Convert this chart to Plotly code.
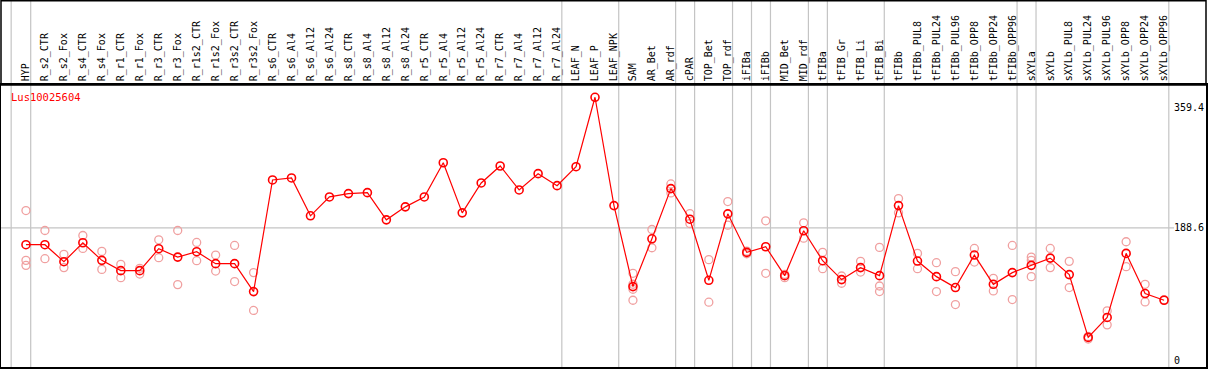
import plotly.graph_objects as go

gene = "Lus10025604"

categories = [
    "HYP", "R_s2_CTR", "R_s2_Fox", "R_s4_CTR", "R_s4_Fox", "R_r1_CTR", "R_r1_Fox",
    "R_r3_CTR", "R_r3_Fox", "R_r1s2_CTR", "R_r1s2_Fox", "R_r3s2_CTR", "R_r3s2_Fox",
    "R_s6_CTR", "R_s6_Al4", "R_s6_Al12", "R_s6_Al24", "R_s8_CTR", "R_s8_Al4",
    "R_s8_Al12", "R_s8_Al24", "R_r5_CTR", "R_r5_Al4", "R_r5_Al12", "R_r5_Al24",
    "R_r7_CTR", "R_r7_Al4", "R_r7_Al12", "R_r7_Al24", "LEAF_N", "LEAF_P", "LEAF_NPK",
    "SAM", "AR_Bet", "AR_rdf", "cPAR", "TOP_Bet", "TOP_rdf", "iFIBa", "iFIBb",
    "MID_Bet", "MID_rdf", "tFIBa", "tFIB_Gr", "tFIB_Li", "tFIB_Bi", "tFIBb",
    "tFIBb_PUL8", "tFIBb_PUL24", "tFIBb_PUL96", "tFIBb_OPP8", "tFIBb_OPP24",
    "tFIBb_OPP96", "sXYLa", "sXYLb", "sXYLb_PUL8", "sXYLb_PUL24", "sXYLb_PUL96",
    "sXYLb_OPP8", "sXYLb_OPP24", "sXYLb_OPP96",
]

means = [
    164.6, 164.6, 140.5, 167.4, 142.4, 127.8, 127.8, 158.9, 147.0, 154.7, 137.7,
    137.7, 98.1, 256.5, 259.3, 205.6, 232.4, 237.1, 238.5, 199.9, 218.3, 232.4,
    280.9, 209.8, 252.2, 276.3, 242.3, 265.4, 248.4, 275.3, 373.8, 220.1, 105.2,
    173.0, 244.2, 200.8, 114.1, 208.4, 153.7, 161.7, 120.7, 184.4, 141.9, 115.1,
    132.1, 120.7, 220.1, 141.4, 119.3, 103.8, 149.9, 108.4, 125.0, 135.3, 145.6,
    122.2, 33.1, 61.4, 152.3, 95.3, 85.8,
]

replicates = {
    "HYP": [213.1, 142.4, 135.3],
    "R_s2_CTR": [184.8, 144.8],
    "R_s2_Fox": [150.9, 132.1],
    "R_s4_CTR": [177.7, 159.3],
    "R_s4_Fox": [155.1, 129.6],
    "R_r1_CTR": [136.7, 117.9],
    "R_r1_Fox": [131.1, 123.0],
    "R_r3_CTR": [171.6, 146.2],
    "R_r3_Fox": [184.8, 108.0],
    "R_r1s2_CTR": [167.8, 141.9],
    "R_r1s2_Fox": [149.9, 127.2],
    "R_r3s2_CTR": [163.6, 112.3],
    "R_r3s2_Fox": [125.0, 71.3],
    "SAM": [124.0, 108.5, 101.4, 85.8],
    "AR_Bet": [186.2, 160.3],
    "AR_rdf": [250.8, 238.1],
    "cPAR": [208.8, 194.7],
    "TOP_Bet": [143.4, 83.0],
    "TOP_rdf": [225.8, 192.3],
    "iFIBa": [151.8, 155.5],
    "iFIBb": [198.5, 124.0],
    "MID_Bet": [117.9, 122.6],
    "MID_rdf": [195.7, 173.9],
    "tFIBa": [153.7, 130.6],
    "tFIB_Gr": [120.2, 109.9],
    "tFIB_Li": [141.0, 125.8],
    "tFIB_Bi": [160.8, 106.0, 98.1],
    "tFIBb": [230.0, 209.8],
    "tFIBb_PUL8": [152.3, 130.6],
    "tFIBb_PUL24": [139.1, 98.1],
    "tFIBb_PUL96": [126.4, 79.7],
    "tFIBb_OPP8": [159.3, 140.0],
    "tFIBb_OPP24": [116.9, 99.0],
    "tFIBb_OPP96": [163.6, 86.8],
    "sXYLa": [147.0, 142.4, 119.3],
    "sXYLb": [159.3, 132.1],
    "sXYLb_PUL8": [141.0, 103.8],
    "sXYLb_PUL24": [30.7, 34.5],
    "sXYLb_PUL96": [70.7, 50.9],
    "sXYLb_OPP8": [168.8, 133.5],
    "sXYLb_OPP24": [108.4, 83.4],
    "sXYLb_OPP96": [86.5],
}

# last category of each sample group (a separator follows it)
group_ends = ["HYP", "R_r7_Al24", "LEAF_NPK", "AR_rdf", "cPAR", "TOP_rdf", "iFIBa",
              "iFIBb", "MID_rdf", "tFIBa", "tFIB_Bi", "tFIBb_OPP96", "sXYLa", "sXYLb_OPP96"]

ytick_vals = [0, 188.6, 359.4]
ytick_text = ["0", "188.6", "359.4"]
ref_line = 188.6

xs = list(range(len(categories)))
rep_x, rep_y = [], []
for c, vals in replicates.items():
    i = categories.index(c)
    for v in vals:
        rep_x.append(i)
        rep_y.append(v)

MONO = "DejaVu Sans Mono"
W, H = 1209, 370
ML, MR, MT, MB = 1, 1, 85, 2
plot_h = H - MT - MB
plot_w = W - ML - MR

fig = go.Figure()
fig.add_trace(go.Scatter(
    x=rep_x, y=rep_y, mode="markers",
    marker=dict(symbol="circle-open", size=8, color="#f0a0a0", line=dict(width=1.3, color="#f0a0a0")),
    hoverinfo="skip", showlegend=False,
))
fig.add_trace(go.Scatter(
    x=xs, y=means, mode="lines+markers",
    line=dict(color="#ff0000", width=1.2),
    marker=dict(symbol="circle-open", size=8, color="#ff0000", line=dict(width=1.6, color="#ff0000")),
    showlegend=False,
))

shapes = []
sep_positions = [-0.78] + [categories.index(g) + 0.25 for g in group_ends]
top_paper = 1 + MT / plot_h
for p in sep_positions:
    shapes.append(dict(type="line", xref="x", yref="paper", x0=p, x1=p, y0=0, y1=top_paper,
                       line=dict(color="#c4c4c4", width=1.2), layer="below"))
shapes.append(dict(type="line", xref="paper", yref="y", x0=0, x1=(1176 - ML) / plot_w,
                   y0=ref_line, y1=ref_line, line=dict(color="#c4c4c4", width=1.2), layer="below"))
# header frame
shapes.append(dict(type="rect", xref="paper", yref="paper", x0=0, x1=1, y0=1, y1=top_paper - 0.5 / plot_h,
                   line=dict(color="black", width=1.5), fillcolor="rgba(0,0,0,0)"))

annotations = [dict(text=gene, xref="paper", yref="paper", x=(9 - ML) / plot_w,
                    y=(H - MB - 97.3) / plot_h, xanchor="left", yanchor="middle",
                    showarrow=False, font=dict(family=MONO, size=10.5, color="#ff0000"))]
for v, t in zip(ytick_vals, ytick_text):
    annotations.append(dict(text=t, xref="paper", yref="y", x=(1174 - ML) / plot_w, y=v,
                            xanchor="left", yanchor="middle", showarrow=False,
                            font=dict(family=MONO, size=10, color="black")))

fig.update_layout(
    width=W, height=H,
    margin=dict(l=ML, r=MR, t=MT, b=MB, pad=0),
    paper_bgcolor="white", plot_bgcolor="white",
    font=dict(family=MONO, size=10, color="black"),
    shapes=shapes,
    annotations=annotations,
)
fig.update_xaxes(
    range=[(ML - 26) / 19, (W - MR - 26) / 19],
    side="top", tickmode="array", tickvals=xs, ticktext=categories,
    tickangle=-90, ticks="", showgrid=False, zeroline=False,
    showline=True, mirror=True, linecolor="black", linewidth=1.5,
    tickfont=dict(family=MONO, size=10, color="black"),
)
y_bottom = (361.7 - (H - MB)) / 0.7073
y_top = (361.7 - MT) / 0.7073
fig.update_yaxes(
    range=[y_bottom, y_top], showticklabels=False,
    ticks="", showgrid=False, zeroline=False,
    showline=True, mirror=True, linecolor="black", linewidth=1.5,
)

fig.write_html("out.html", config={"displayModeBar": False},
               post_script="document.body.style.margin='0';document.body.style.overflow='hidden';")
